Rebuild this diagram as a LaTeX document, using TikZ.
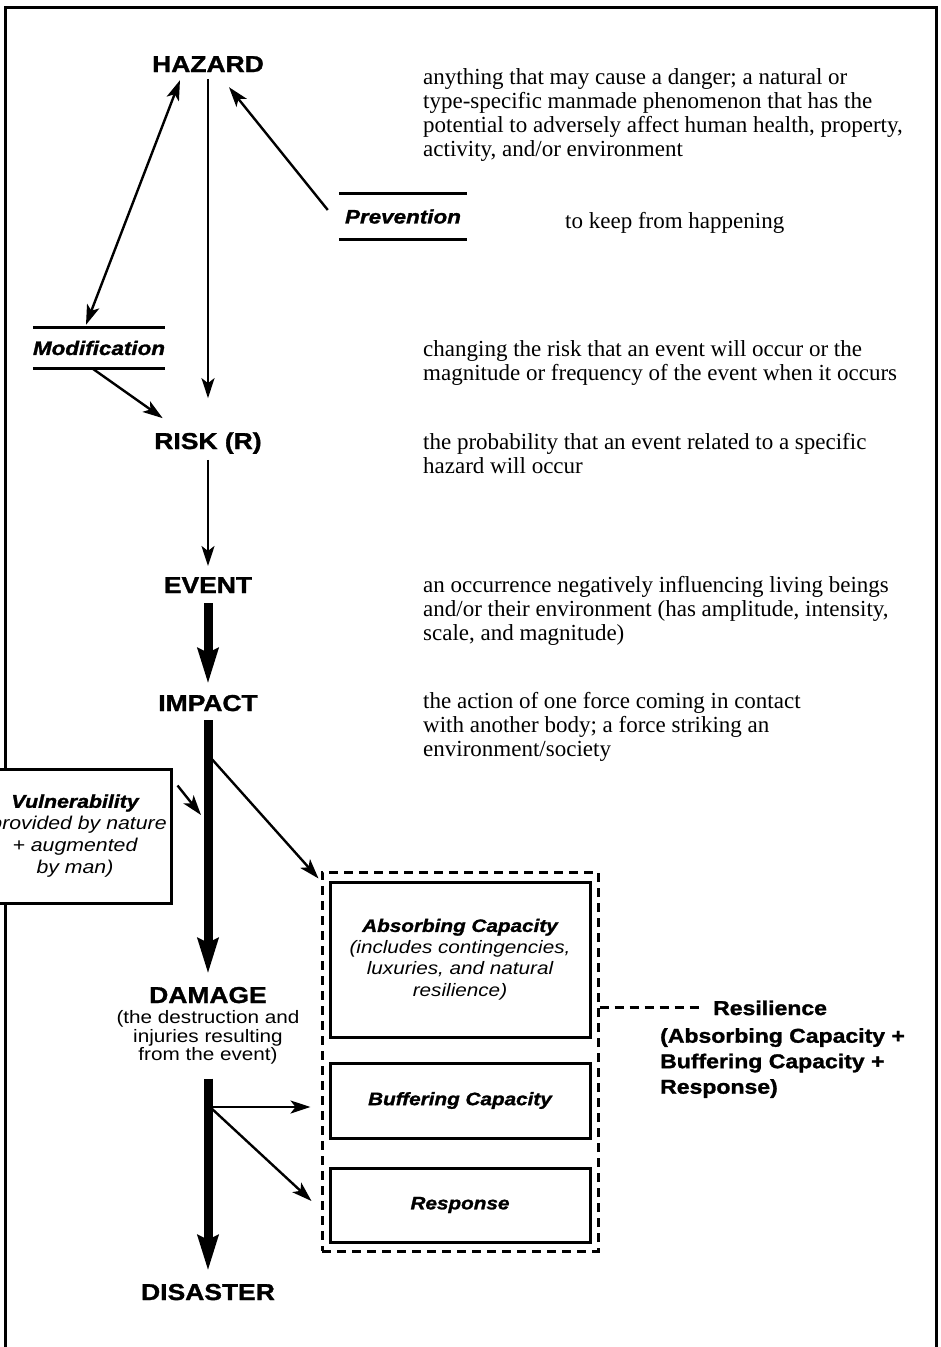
\documentclass[tikz,border=0pt]{standalone}
\usepackage{fontspec}
\setmainfont{Liberation Serif}
\newfontfamily\heavy{Liberation Sans}[FakeStretch=1.15, BoldFeatures={FakeBold=1.4}, BoldItalicFeatures={FakeBold=1.4}]
\usetikzlibrary{arrows.meta,positioning,calc}
\tikzstyle{term}      = [anchor=base, inner sep=3pt, font=\heavy\bfseries\fontsize{23}{26}\selectfont]
\tikzstyle{desc}      = [anchor=north west, inner sep=0pt, align=left, font=\rmfamily\fontsize{23}{24}\selectfont]
\tikzstyle{barred}    = [inner sep=0pt, minimum width=128pt, font=\heavy\bfseries\itshape\fontsize{19.5}{22}\selectfont]
\tikzstyle{rule}      = [line width=3pt]
\tikzstyle{capbox}    = [draw, line width=3pt, inner sep=0pt, minimum width=260pt, align=center, font=\heavy\itshape\fontsize{18}{21.5}\selectfont]
\tikzstyle{dashline}  = [line width=3pt, dash pattern=on 9pt off 6pt]
\tikzstyle{arrow}     = [line width=2.4pt, ->, >={Stealth[length=20pt,width=13pt,inset=5pt]}]
\tikzstyle{bigarrow}  = [line width=9pt, -{Stealth[length=35pt,width=20pt,inset=4pt]}]

\begin{document}
\begin{tikzpicture}[x=1pt,y=-1pt]
	\useasboundingbox (0,0) rectangle (941,1347);
	% frame, open at the bottom
	\draw[rule] (5,1347) -- (5,7) -- (936,7) -- (936,1347);

	% the chain
	\node[term] (hazard) at (208,72) {HAZARD};
	\node[term] (risk) at (208,449) {RISK (R)};
	\node[term] (event) at (208,593) {EVENT};
	\node[term] (impact) at (208,711) {IMPACT};
	\node[term] (damage) at (208,1003) {DAMAGE};
	\node[below=4pt of damage, inner sep=0pt, align=center, font=\heavy\fontsize{18}{18.5}\selectfont] (damagenote) {(the destruction and\\injuries resulting\\from the event)};
	\node[term] (disaster) at (208,1300) {DISASTER};

	\node[barred, minimum height=45pt] (prev) at (403,216.5) {Prevention};
	\node[barred, minimum height=40pt] (modif) at (99,348) {Modification};
	\foreach \n in {prev,modif}
		\draw[rule] (\n.north west) -- (\n.north east) (\n.south west) -- (\n.south east);

	% definitions
	\node[desc] (hazarddesc) at (423,68) {anything that may cause a danger; a natural or\\type-specific manmade phenomenon that has the\\potential to adversely affect human health, property,\\activity, and/or environment};
	\node[desc, anchor=base west] (prevdesc) at (565,228) {to keep from happening};
	\node[desc] (modifdesc) at (423,340) {changing the risk that an event will occur or the\\magnitude or frequency of the event when it occurs};
	\node[desc] (riskdesc) at (423,433) {the probability that an event related to a specific\\hazard will occur};
	\node[desc] (eventdesc) at (423,576) {an occurrence negatively influencing living beings\\and/or their environment (has amplitude, intensity,\\scale, and magnitude)};
	\node[desc] (impactdesc) at (423,692) {the action of one force coming in contact\\with another body; a force striking an\\environment/society};

	% vulnerability and resilience
	\node[capbox, fill=white, minimum width=192pt, minimum height=134pt, font=\heavy\itshape\fontsize{18.5}{22}\selectfont] (vuln) at (75,836) {\bfseries Vulnerability\\(provided by nature\\+ augmented\\by man)};
	\node[draw, dashline, minimum width=276pt, minimum height=379pt] (resil) at (460,1061.5) {};
	\node[capbox, minimum height=155pt] (absorb) at (460,959.5) {\bfseries Absorbing Capacity\\(includes contingencies,\\luxuries, and natural\\resilience)};
	\node[capbox, minimum height=75pt] (buffer) at (460,1100.5) {\bfseries Buffering Capacity};
	\node[capbox, minimum height=74pt] (response) at (460,1205) {\bfseries Response};
	\node[anchor=base west, inner sep=0pt, font=\heavy\bfseries\fontsize{20}{25}\selectfont] (reslbl) at (713,1015) {Resilience};
	\node[anchor=north west, inner sep=0pt, align=left, font=\heavy\bfseries\fontsize{20}{25.5}\selectfont] (resnote) at (660,1028) {(Absorbing Capacity +\\Buffering Capacity +\\Response)};
	\draw[dashline, shorten >=12pt] (reslbl.west -| resil.east) -- (reslbl.west);

	\coordinate (vhit) at (201,815);
	\coordinate (fork) at (210,757);
	\coordinate (fork2) at (210,1107);

	% connectors
	\draw[arrow, shorten <=4pt, shorten >=31pt] (hazard.south) -- (risk.north);
	\draw[arrow, <->] ([xshift=31pt,yshift=-5pt]hazard.south west) -- ([xshift=-13pt,yshift=3pt]modif.north);
	\draw[arrow] ([xshift=-11pt,yshift=6.5pt]prev.west) -- ([xshift=21pt,yshift=-12pt]hazard.south);
	\draw[arrow] ([xshift=-7pt]modif.south) -- ([xshift=11.5pt,yshift=11pt]risk.north west);
	\draw[arrow, shorten <=3pt, shorten >=8pt] (risk.south) -- (event.north);
	\draw[bigarrow, shorten <=7pt, shorten >=8pt] (event.south) -- (impact.north);
	\draw[bigarrow, shorten <=6pt, shorten >=10pt] (impact.south) -- (damage.north);
	\draw[bigarrow, shorten <=14pt, shorten >=10pt] (damagenote.south) -- (disaster.north);
	\draw[arrow] ([xshift=5pt,yshift=-18pt]vuln.north east) -- (vhit);
	\draw[arrow] (fork) -- ([xshift=-2pt,yshift=-8pt]resil.north west);
	\draw[arrow, shorten >=18pt] (fork2) -- (fork2 -| buffer.west);
	\draw[arrow] (fork2) -- ([xshift=-17pt,yshift=4pt]response.west);
\end{tikzpicture}
\end{document}
